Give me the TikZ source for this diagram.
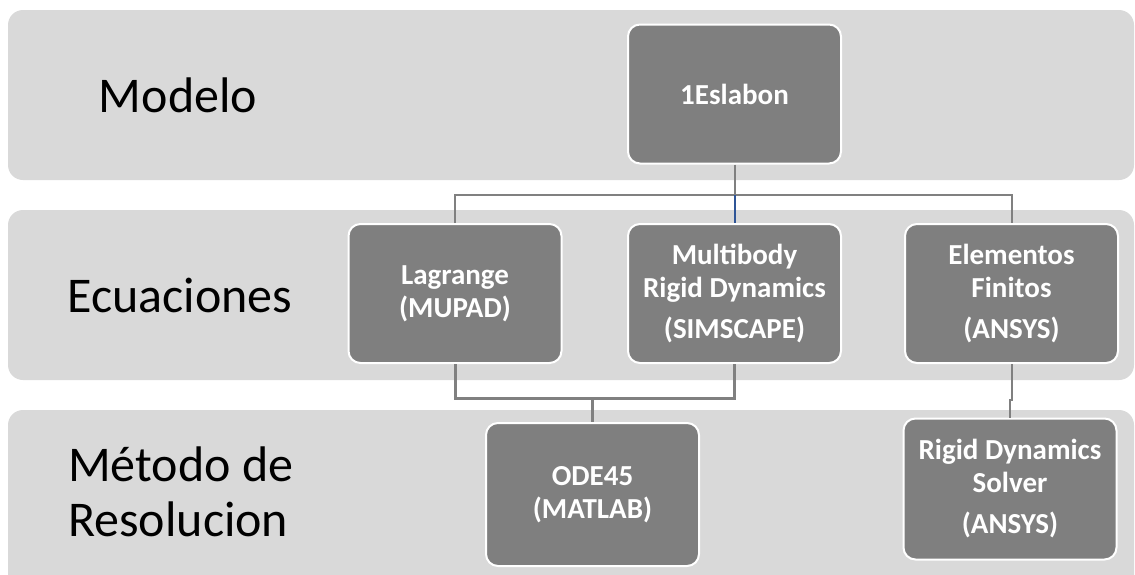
\documentclass[tikz,border=0pt]{standalone}
\usepackage{fontspec}
\setmainfont{Carlito}
\usepackage{xcolor}
\definecolor{bandgray}{HTML}{D9D9D9}
\definecolor{boxgray}{HTML}{7F7F7F}
\definecolor{linegray}{HTML}{808080}
\definecolor{lineblue}{HTML}{2F5597}

\tikzset{
  band/.style={fill=bandgray, rounded corners=15pt},
  level/.style={font=\fontsize{50}{55}\selectfont, text=black, inner sep=0pt},
  box/.style={fill=boxgray, draw=white, line width=2pt, rounded corners=12pt,
    text=white, align=center, inner sep=0pt,
    minimum width=213pt, minimum height=139pt,
    font=\bfseries\fontsize{29}{33}\selectfont},
  link/.style={draw=linegray, line width=2pt},
}

\begin{document}
\begin{tikzpicture}[x=1pt,y=-1pt]
\useasboundingbox (0,0) rectangle (1135,574);
%% bands
\fill[band] (8,10) rectangle (1134,180);
\fill[band] (8,210) rectangle (1134,380);
\fill[band] (8,410) rectangle (1134,590);

%% row labels
\node[level] (modelo) at (178,95) {Modelo};
\node[level] (ecuaciones) at (180,295) {Ecuaciones};
\node[level, anchor=west, align=left] (metodo) at (68,492) {Método de\\Resolucion};

%% boxes
\node[box] (eslabon) at (734.5,94) {1Eslabon};
\node[box] (lagrange) at (455,293.5) {Lagrange\\(MUPAD)};
\node[box] (multibody) at (734.5,293.5) {Multibody\\Rigid Dynamics\\[8pt](SIMSCAPE)};
\node[box] (elementos) at (1011.5,293.5) {Elementos\\Finitos\\[8pt](ANSYS)};
\node[box, minimum height=143pt] (ode) at (592.5,494.5) {ODE45\\(MATLAB)};
\node[box, minimum height=141pt] (solver) at (1010,489) {Rigid Dynamics\\Solver\\[8pt](ANSYS)};

%% connectors
\coordinate (bus1) at (734.5,195);
\coordinate (bus2) at (592.5,398);
\draw[link] (eslabon.south) -- (bus1);
\draw[link] (lagrange.north) |- (bus1) -| (elementos.north);
\draw[link, draw=lineblue] (bus1) -- (multibody.north);
\draw[link, line width=3pt] (lagrange.south) |- (bus2) -| (multibody.south);
\draw[link, line width=3pt] (bus2) -- (ode.north);
\draw[link] (elementos.south) -- ++(0,36) -| (solver.north);

\end{tikzpicture}
\end{document}
